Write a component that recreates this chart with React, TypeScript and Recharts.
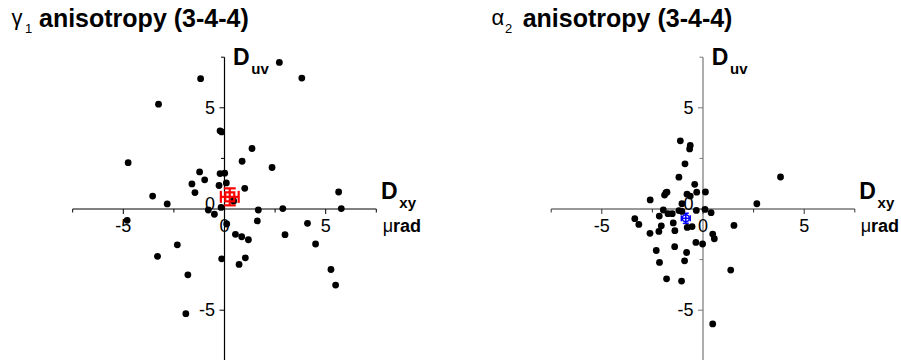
import React from 'react';
import { ScatterChart, Scatter, XAxis, YAxis, ReferenceLine, ErrorBar } from 'recharts';

// γ1 anisotropy (left panel)
const gammaDxy = [2.71, 3.82, -1.18, -3.26, -0.22, -0.14, 1.36, -4.76, 0.87, 2.35, -1.23, -0.98, -0.22, 0.01, -1.61, -0.27, 0.09, 1.0, -1.46, -3.55, 0.45, 5.64, -2.83, -0.17, 5.77, 1.67, 2.88, -0.8, -0.5, -4.81, 0.11, 1.62, 4.1, 0.54, 0.85, 1.18, 2.99, -2.33, 4.5, -3.31, -0.14, 1.03, 0.72, -1.81, 5.26, 5.49, -1.91];
const gammaDuv = [7.24, 6.47, 6.44, 5.18, 3.86, 3.81, 2.99, 2.29, 2.36, 2.05, 1.83, 1.44, 1.75, 1.77, 1.24, 1.16, 1.29, 1.02, 0.81, 0.64, 0.4, 0.84, 0.25, 0.08, 0.02, -0.05, 0.02, -0.05, -0.26, -0.56, -0.74, -0.59, -0.71, -1.25, -1.37, -1.52, -1.27, -1.77, -1.73, -2.34, -2.46, -2.41, -2.74, -3.25, -2.99, -3.76, -5.17];
const gammaMean = [{ x: 0.26, y: 0.6, ex: 0.44, ey: 0.42 }];

// α2 anisotropy (right panel)
const alphaDxy = [-1.12, -0.63, -0.66, -0.89, 3.83, -1.19, -0.41, -1.83, -1.78, -1.9, -0.31, 0.12, -0.79, -0.63, -2.61, 2.66, -1.04, -1.96, -1.73, -1.52, -1.19, -1.04, -0.33, 0.1, 0.4, -2.16, -3.37, -3.17, -1.47, -2.06, -0.78, -0.54, 1.53, -1.39, -2.18, -2.62, 0.48, 0.56, -0.35, -0.02, -1.4, -2.31, -0.81, -0.91, -2.15, 1.37, -1.8, -1.06, 0.48];
const alphaDuv = [3.37, 3.14, 2.97, 2.23, 1.58, 1.57, 1.22, 0.81, 0.83, 0.69, 0.83, 0.84, 0.73, 0.64, 0.45, 0.26, 0.26, -0.05, -0.23, -0.23, -0.08, -0.12, -0.07, -0.02, -0.18, -0.35, -0.48, -0.76, -0.69, -0.83, -0.91, -0.87, -0.81, -1.07, -1.11, -1.2, -1.24, -1.47, -1.65, -1.73, -1.86, -2.05, -2.15, -2.56, -2.64, -3.02, -3.45, -3.56, -5.68];
const alphaMean = [{ x: -0.85, y: -0.46, ex: 0.22, ey: 0.25 }];

const tickValues = [-7.5, -5, -2.5, 0, 2.5, 5, 7.5];
const tickLabels = ['', '-5', '', '0', '', '5', ''];
const domain: [number, number] = [-7.5, 7.5];

const FONT = '"Liberation Sans", Arial, sans-serif';

const gammaData = gammaDxy.map((x, i) => ({ x, y: gammaDuv[i] }));
const alphaData = alphaDxy.map((x, i) => ({ x, y: alphaDuv[i] }));
const xTickData = tickValues.map((v, i) => ({ x: v, y: 0, label: tickLabels[i] }));
const yTickData = tickValues.map((v, i) => ({ x: 0, y: v, label: tickLabels[i] }));

const Dot = (p: any) => <circle cx={p.cx} cy={p.cy} r={3.4} fill="#000" />;

const makeXTick = (color: string) => (p: any) => {
  const major = p.payload.label !== '';
  return (
    <g>
      <line x1={p.cx} y1={p.cy} x2={p.cx} y2={p.cy + (major ? 5 : 3.5)} stroke={color} strokeWidth={1} />
      {major && (
        <text x={p.cx} y={p.cy + 22.7} textAnchor="middle" fontSize={18} fontFamily={FONT} fill="#000">
          {p.payload.label}
        </text>
      )}
    </g>
  );
};

const makeYTick = (color: string) => (p: any) => {
  const major = p.payload.label !== '';
  const isZero = p.payload.y === 0;
  return (
    <g>
      <line x1={p.cx - (major ? 5 : 3.5)} y1={p.cy} x2={p.cx} y2={p.cy} stroke={color} strokeWidth={1} />
      {major && (
        <text x={p.cx - 9.5} y={p.cy + (isZero ? 1 : 6.2)} textAnchor="end" fontSize={18} fontFamily={FONT} fill="#000">
          {p.payload.label}
        </text>
      )}
    </g>
  );
};

const RedMean = (p: any) => (
  <rect x={p.cx - 4.5} y={p.cy - 4.5} width={9} height={9} fill="none" stroke="#ff0000" strokeWidth={2.2} />
);
const BlueMean = (p: any) => (
  <circle cx={p.cx} cy={p.cy} r={3.5} fill="none" stroke="#0000ff" strokeWidth={1.5} />
);

type PanelProps = {
  data: { x: number; y: number }[];
  mean: any[];
  MeanShape: any;
  meanColor: string;
  capWidth: number;
  barWidth: number;
  xAxisColor: string;
  yAxisColor: string;
  width: number;
  margin: { top: number; left: number; right: number; bottom: number };
  left: number;
};

const Panel = ({ data, mean, MeanShape, meanColor, capWidth, barWidth, xAxisColor, yAxisColor, width, margin, left }: PanelProps) => (
  <div style={{ position: 'absolute', left, top: 0 }}>
    <ScatterChart width={width} height={361} margin={margin}>
      <XAxis type="number" dataKey="x" domain={domain} hide />
      <YAxis type="number" dataKey="y" domain={domain} hide />
      <ReferenceLine y={0} stroke={xAxisColor} strokeWidth={1} />
      <ReferenceLine x={0} stroke={yAxisColor} strokeWidth={1.2} />
      <Scatter data={xTickData} shape={makeXTick(xAxisColor)} isAnimationActive={false} />
      <Scatter data={yTickData} shape={makeYTick(yAxisColor)} isAnimationActive={false} />
      <Scatter data={data} shape={Dot} isAnimationActive={false} />
      <Scatter data={mean} shape={MeanShape} isAnimationActive={false}>
        <ErrorBar dataKey="ex" direction="x" stroke={meanColor} strokeWidth={barWidth} width={capWidth} />
        <ErrorBar dataKey="ey" direction="y" stroke={meanColor} strokeWidth={barWidth} width={capWidth} />
      </Scatter>
    </ScatterChart>
  </div>
);

const AxisName = ({ x, y, sub }: { x: number; y: number; sub: string }) => (
  <g fontFamily={FONT} fontWeight="bold" fill="#000">
    <text x={x} y={y} fontSize={23}>D</text>
    <text x={x + 18.3} y={y + 9} fontSize={15}>{sub}</text>
  </g>
);

const Micro = ({ x, y }: { x: number; y: number }) => (
  <text x={x} y={y} fontFamily={FONT} fontSize={18} fill="#000">
    <tspan fontWeight="normal">μ</tspan>
    <tspan fontWeight="bold">rad</tspan>
  </text>
);

const Title = ({ x, gx, greek, sub }: { x: number; gx: number; greek: string; sub: string }) => (
  <g fontFamily={FONT} fill="#000">
    <text x={gx} y={25} fontSize={22}>{greek}</text>
    <text x={gx + 13.5} y={33} fontSize={13}>{sub}</text>
    <text x={x} y={27} fontSize={25} fontWeight="bold">anisotropy (3-4-4)</text>
  </g>
);

export default function App() {
  return (
    <div style={{ position: 'absolute', left: 0, top: 0, width: 901, height: 360, background: '#fff', overflow: 'hidden' }}>
      <Panel
        data={gammaData}
        mean={gammaMean}
        MeanShape={RedMean}
        meanColor="#ff0000"
        capWidth={6}
        barWidth={2.2}
        xAxisColor="#000"
        yAxisColor="#000"
        width={450}
        left={0}
        margin={{ top: 57.2, left: 72.7, right: 73.7, bottom: 0.2 }}
      />
      <Panel
        data={alphaData}
        mean={alphaMean}
        MeanShape={BlueMean}
        meanColor="#0000ff"
        capWidth={3}
        barWidth={1.5}
        xAxisColor="#333"
        yAxisColor="#777"
        width={451}
        left={450}
        margin={{ top: 57.2, left: 101.2, right: 46.2, bottom: 0.2 }}
      />
      <svg width={901} height={360} style={{ position: 'absolute', left: 0, top: 0, pointerEvents: 'none' }}>
        <Title x={39} gx={11.5} greek="γ" sub="1" />
        <Title x={522.7} gx={491.5} greek="α" sub="2" />
        <AxisName x={233} y={65} sub="uv" />
        <AxisName x={381} y={199} sub="xy" />
        <Micro x={382.7} y={231.7} />
        <AxisName x={711.7} y={65} sub="uv" />
        <AxisName x={859.3} y={199} sub="xy" />
        <Micro x={860.7} y={231.7} />
      </svg>
    </div>
  );
}
